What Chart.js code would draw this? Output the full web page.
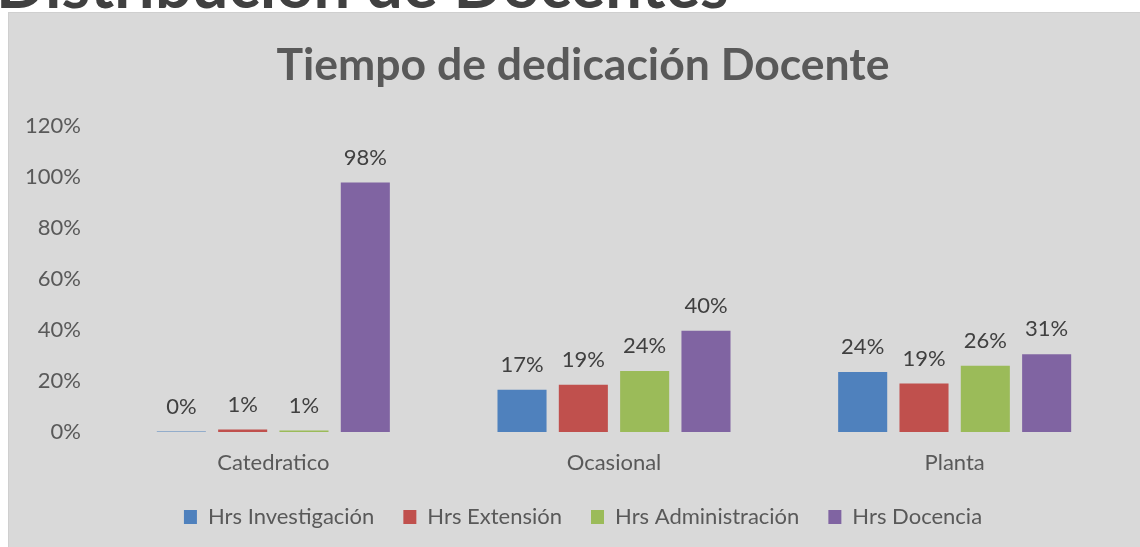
<!DOCTYPE html>
<html>
<head>
<meta charset="utf-8">
<script src="https://cdn.jsdelivr.net/npm/chart.js@4"></script>
<style>
  html, body { margin: 0; padding: 0; background: #fff; overflow: hidden; width: 1140px; height: 547px; }
  .top-title { position: absolute; left: -4px; top: -49px; font: bold 65px Lato, sans-serif; color: #404040; white-space: nowrap; line-height: 65px; }
  .box { position: absolute; left: 8px; top: 12px; width: 1148px; height: 554px; background: #d9d9d9; border-left: 1px solid #cfcfcf; border-top: 1px solid #cfcfcf; }
</style>
</head>
<body>
<div class="top-title">Distribución de Docentes</div>
<div class="box"><canvas id="chart" width="1148" height="525"></canvas></div>
<script>
// categorías y series (fracciones, el eje muestra %)
const categorias = ['Catedratico', 'Ocasional', 'Planta'];
const hrsInvestigacion = [0.002, 0.166, 0.236];
const hrsExtension = [0.01, 0.186, 0.19];
const hrsAdministracion = [0.006, 0.24, 0.26];
const hrsDocencia = [0.98, 0.398, 0.305];

const colores = ['#4f81bd', '#c0504d', '#9bbb59', '#8064a2'];
const FONT = 'Lato, sans-serif';
const SIZE = 22;

// etiquetas de datos sobre cada barra
const etiquetas = {
    id: 'etiquetas',
    afterDatasetsDraw(chart) {
        const ctx = chart.ctx;
        ctx.save();
        ctx.font = SIZE + 'px ' + FONT;
        ctx.fillStyle = '#404040';
        ctx.textAlign = 'center';
        ctx.textBaseline = 'middle';
        chart.data.datasets.forEach((ds, i) => {
            chart.getDatasetMeta(i).data.forEach((bar, j) => {
                ctx.fillText(Math.round(ds.data[j] * 100) + '%', bar.x, bar.y - 25);
            });
        });
        ctx.restore();
    }
};

new Chart(document.getElementById('chart'), {
    type: 'bar',
    data: {
        labels: categorias,
        datasets: [
            { label: 'Hrs Investigación', data: hrsInvestigacion, backgroundColor: colores[0] },
            { label: 'Hrs Extensión', data: hrsExtension, backgroundColor: colores[1] },
            { label: 'Hrs Administración', data: hrsAdministracion, backgroundColor: colores[2] },
            { label: 'Hrs Docencia', data: hrsDocencia, backgroundColor: colores[3] }
        ]
    },
    options: {
        responsive: false,
        animation: false,
        categoryPercentage: 0.72,
        barPercentage: 0.8,
        layout: { padding: 0 },
        plugins: {
            title: {
                display: true,
                text: 'Tiempo de dedicación Docente',
                color: '#595959',
                font: { family: FONT, size: 44.5, weight: 'bold' },
                padding: { top: 26, bottom: 34 }
            },
            legend: {
                position: 'bottom',
                labels: {
                    color: '#595959',
                    font: { family: FONT, size: SIZE },
                    boxWidth: 13,
                    boxHeight: 14,
                    padding: 29
                }
            },
            tooltip: { enabled: false }
        },
        scales: {
            x: {
                grid: { display: false, drawTicks: false },
                border: { display: false },
                ticks: { color: '#595959', font: { family: FONT, size: SIZE }, padding: 18 },
                afterFit(scale) { scale.height = 45; }
            },
            y: {
                min: 0,
                max: 1.2,
                grid: { display: false, drawTicks: false },
                border: { display: false },
                ticks: {
                    stepSize: 0.2,
                    color: '#595959',
                    font: { family: FONT, size: SIZE },
                    padding: 22,
                    callback: v => Math.round(v * 100) + '%'
                },
                afterFit(scale) { scale.width = 94; }
            },
            // eje vacío a la derecha: deja el margen sin descentrar título y leyenda
            margen: {
                position: 'right',
                grid: { display: false, drawTicks: false },
                border: { display: false },
                ticks: { display: false },
                afterFit(scale) { scale.width = 32; }
            }
        }
    },
    plugins: [etiquetas]
});
</script>
</body>
</html>
